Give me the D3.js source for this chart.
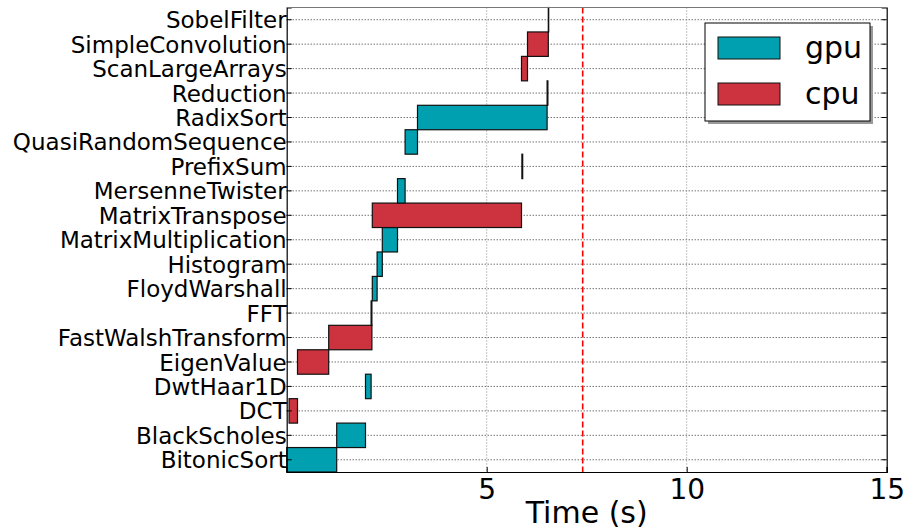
<!DOCTYPE html>
<html>
<head>
<meta charset="utf-8">
<script src="https://cdn.jsdelivr.net/npm/d3@7"></script>
<style>
  body { margin: 0; background: #fff; }
  text { font-family: "DejaVu Sans", sans-serif; fill: #000; }
</style>
</head>
<body>
<div id="chart"></div>
<script>
// benchmark schedule data (times in seconds)
const benchmarks = ["BitonicSort", "BlackScholes", "DCT", "DwtHaar1D", "EigenValue",
  "FastWalshTransform", "FFT", "FloydWarshall", "Histogram", "MatrixMultiplication",
  "MatrixTranspose", "MersenneTwister", "PrefixSum", "QuasiRandomSequence", "RadixSort",
  "Reduction", "ScanLargeArrays", "SimpleConvolution", "SobelFilter"];
const device = ["gpu", "gpu", "cpu", "gpu", "cpu",
  "cpu", "gpu", "gpu", "gpu", "gpu",
  "cpu", "gpu", "cpu", "gpu", "gpu",
  "gpu", "cpu", "cpu", "cpu"];
const start = [0, 1.25, 0.06, 1.97, 0.27,
  1.05, 2.11, 2.14, 2.26, 2.39,
  2.14, 2.77, 5.88, 2.96, 3.27,
  6.51, 5.87, 6.02, 6.54];
const duration = [1.25, 0.72, 0.21, 0.14, 0.78,
  1.08, 0.02, 0.12, 0.13, 0.38,
  3.73, 0.19, 0.02, 0.31, 3.24,
  0.02, 0.15, 0.52, 0.01];
const xTicks = [5, 10, 15];
const deadline = 7.4;
const legendLabels = ["gpu", "cpu"];

const colors = { gpu: "#00A0B0", cpu: "#CC333F" };

// chart building
const svgWidth = 910;
const svgHeight = 531;

const margin = { top: 7.5, right: 23.3, bottom: 59, left: 286.7 };
const width = svgWidth - margin.left - margin.right;
const height = svgHeight - margin.top - margin.bottom;

const svg = d3.select("#chart")
  .append("svg")
  .attr("width", svgWidth)
  .attr("height", svgHeight);

const chartGroup = svg.append("g")
  .attr("transform", `translate(${margin.left}, ${margin.top})`);

const tasks = benchmarks.map((name, i) => ({
  name: name,
  device: device[i],
  start: start[i],
  end: start[i] + duration[i]
}));

// scales
const xScale = d3.scaleLinear()
  .domain([0, 15])
  .range([0, width]);

const yScale = d3.scaleBand()
  .domain(benchmarks)
  .range([height, 0])
  .padding(0);

// grid lines
chartGroup.append("g")
  .selectAll("line")
  .data(benchmarks)
  .enter()
  .append("line")
  .attr("x1", 0)
  .attr("x2", width)
  .attr("y1", d => yScale(d) + yScale.bandwidth() / 2)
  .attr("y2", d => yScale(d) + yScale.bandwidth() / 2)
  .attr("stroke", "#333")
  .attr("stroke-width", 1)
  .attr("stroke-dasharray", "1,2");

chartGroup.append("g")
  .selectAll("line")
  .data(xTicks.slice(0, 2))
  .enter()
  .append("line")
  .attr("x1", d => xScale(d))
  .attr("x2", d => xScale(d))
  .attr("y1", 0)
  .attr("y2", height)
  .attr("stroke", "#888")
  .attr("stroke-width", 1)
  .attr("stroke-dasharray", "1,2");

// bars
chartGroup.append("g")
  .selectAll("rect")
  .data(tasks)
  .enter()
  .append("rect")
  .attr("x", d => xScale(d.start))
  .attr("width", d => xScale(d.end) - xScale(d.start))
  .attr("y", d => yScale(d.name))
  .attr("height", yScale.bandwidth())
  .attr("fill", d => colors[d.device])
  .attr("stroke", "#111")
  .attr("stroke-width", 1.2);

// deadline
chartGroup.append("line")
  .attr("x1", xScale(deadline))
  .attr("x2", xScale(deadline))
  .attr("y1", 0)
  .attr("y2", height)
  .attr("stroke", "#ff0000")
  .attr("stroke-width", 1.6)
  .attr("stroke-dasharray", "6,3");

// axes
const leftAxis = d3.axisLeft(yScale).tickSize(-5).tickPadding(0);
const rightAxis = d3.axisRight(yScale).tickSize(-5).tickFormat("");
const bottomAxis = d3.axisBottom(xScale).tickValues(xTicks).tickSize(-5).tickPadding(2);

const gLeft = chartGroup.append("g").call(leftAxis);
gLeft.selectAll("text")
  .style("font-size", "23px")
  .style("font-family", "DejaVu Sans")
  .attr("dy", "0.37em");

chartGroup.append("g")
  .attr("transform", `translate(${width}, 0)`)
  .call(rightAxis);

const gBottom = chartGroup.append("g")
  .attr("transform", `translate(0, ${height})`)
  .call(bottomAxis);
gBottom.selectAll("text")
  .style("font-size", "28px")
  .style("font-family", "DejaVu Sans")
  .attr("dy", "0.9em");

chartGroup.selectAll(".domain").attr("stroke", "#000").attr("stroke-width", 1.2);
chartGroup.selectAll(".tick line").attr("stroke", "#000");

// top spine
chartGroup.append("line")
  .attr("x1", 0)
  .attr("x2", width)
  .attr("y1", 0)
  .attr("y2", 0)
  .attr("stroke", "#777")
  .attr("stroke-width", 1.2);

// x axis label
chartGroup.append("text")
  .attr("x", width / 2)
  .attr("y", height + 51)
  .attr("text-anchor", "middle")
  .style("font-size", "30px")
  .text("Time (s)");

// legend
const legend = svg.append("g")
  .attr("transform", "translate(705, 23)");

legend.append("rect")
  .attr("x", 3)
  .attr("y", 3)
  .attr("width", 165)
  .attr("height", 98)
  .attr("fill", "#999");

legend.append("rect")
  .attr("width", 165)
  .attr("height", 98)
  .attr("fill", "#fff")
  .attr("stroke", "#000")
  .attr("stroke-width", 1);

const legendItems = legend.selectAll(".item")
  .data(legendLabels)
  .enter()
  .append("g")
  .attr("class", "item")
  .attr("transform", (d, i) => `translate(13, ${14 + i * 46})`);

legendItems.append("rect")
  .attr("width", 62)
  .attr("height", 22)
  .attr("fill", d => colors[d])
  .attr("stroke", "#111")
  .attr("stroke-width", 1);

legendItems.append("text")
  .attr("x", 87)
  .attr("y", 21)
  .style("font-size", "30px")
  .text(d => d);
</script>
</body>
</html>
